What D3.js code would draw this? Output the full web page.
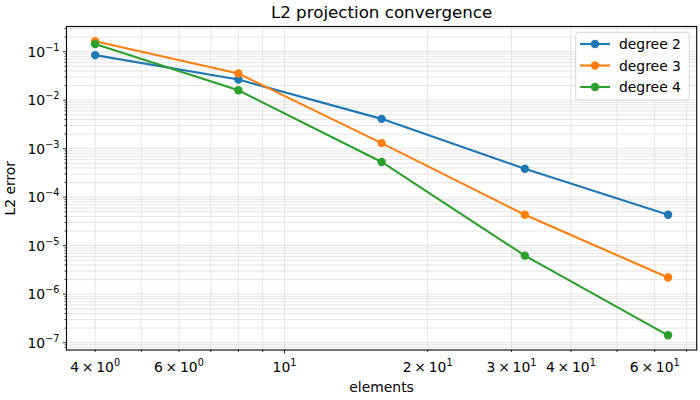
<!DOCTYPE html>
<html>
<head>
<meta charset="utf-8">
<script src="https://cdn.jsdelivr.net/npm/d3@7"></script>
<style>
  body { margin: 0; background: #fff; }
  text { font-family: "DejaVu Sans", sans-serif; fill: #000; }
</style>
</head>
<body>
<div id="chart"></div>
<script>
'use strict';
const elements = [4, 8, 16, 32, 64];
const degree2 = [0.0847, 0.0266, 0.00411, 3.86e-4, 4.33e-5];
const degree3 = [0.164, 0.0353, 1.30e-3, 4.33e-5, 2.2e-6];
const degree4 = [0.143, 0.0160, 5.31e-4, 6.24e-6, 1.42e-7];
const seriesNames = ["degree 2", "degree 3", "degree 4"];
const seriesColors = ["#1f77b4", "#ff7f0e", "#2ca02c"];
const xTickLabels = [[4, "4", 0], [6, "6", 0], [10, "", 1], [20, "2", 1], [30, "3", 1], [40, "4", 1], [60, "6", 1]];
const yTickExps = [-1, -2, -3, -4, -5, -6, -7];

const width = 700, height = 400;
const plotLeft = 66.5, plotRight = 696.7, plotTop = 26.5, plotBottom = 350;

const svg = d3.select("#chart").append("svg")
  .attr("width", width)
  .attr("height", height);

// log-log domains with 5% margins, like matplotlib
function padLog(lo, hi) {
  let a = Math.log10(lo), b = Math.log10(hi), m = (b - a) * 0.05;
  return [Math.pow(10, a - m), Math.pow(10, b + m)];
}
const allY = degree2.concat(degree3, degree4);
const x = d3.scaleLog().domain(padLog(d3.min(elements), d3.max(elements))).range([plotLeft, plotRight]);
const y = d3.scaleLog().domain(padLog(d3.min(allY), d3.max(allY))).range([plotBottom, plotTop]);

// grid, major and minor
let xGrid = [], yGrid = [];
for (let e = -1; e <= 2; ++e)
  for (let k = 1; k < 10; ++k) {
    let v = k * Math.pow(10, e);
    if (v >= x.domain()[0] && v <= x.domain()[1]) xGrid.push(v);
  }
for (let e = -9; e <= 0; ++e)
  for (let k = 1; k < 10; ++k) {
    let v = k * Math.pow(10, e);
    if (v >= y.domain()[0] && v <= y.domain()[1]) yGrid.push(v);
  }

const grid = svg.append("g").attr("stroke", "#dedede").attr("stroke-width", 0.8);
grid.selectAll("line.gx").data(xGrid).join("line")
  .attr("x1", d => x(d)).attr("x2", d => x(d))
  .attr("y1", plotTop).attr("y2", plotBottom);
grid.selectAll("line.gy").data(yGrid).join("line")
  .attr("y1", d => y(d)).attr("y2", d => y(d))
  .attr("x1", plotLeft).attr("x2", plotRight);

// series
const line = d3.line().x(d => x(d[0])).y(d => y(d[1]));
[degree2, degree3, degree4].forEach(function (vals, i) {
  let pts = elements.map((e, j) => [e, vals[j]]);
  let g = svg.append("g");
  g.append("path")
    .attr("d", line(pts))
    .attr("fill", "none")
    .attr("stroke", seriesColors[i])
    .attr("stroke-width", 2.1);
  g.selectAll("circle").data(pts).join("circle")
    .attr("cx", d => x(d[0]))
    .attr("cy", d => y(d[1]))
    .attr("r", 4.2)
    .attr("fill", seriesColors[i]);
});

// frame
svg.append("rect")
  .attr("x", plotLeft).attr("y", plotTop)
  .attr("width", plotRight - plotLeft).attr("height", plotBottom - plotTop)
  .attr("fill", "none").attr("stroke", "#000").attr("stroke-width", 1.1);

// ticks
const ticks = svg.append("g").attr("stroke", "#000").attr("stroke-width", 0.8);
ticks.selectAll("line.tx").data(xGrid).join("line")
  .attr("x1", d => x(d)).attr("x2", d => x(d))
  .attr("y1", plotBottom)
  .attr("y2", d => plotBottom + (d === 10 ? 3.5 : 2));
ticks.selectAll("line.ty").data(yGrid).join("line")
  .attr("y1", d => y(d)).attr("y2", d => y(d))
  .attr("x1", plotLeft)
  .attr("x2", d => plotLeft - (Math.abs(Math.log10(d) - Math.round(Math.log10(d))) < 1e-9 ? 3.5 : 2));

// x tick labels
xTickLabels.forEach(function (t) {
  let txt = svg.append("text")
    .attr("x", x(t[0]))
    .attr("y", 372)
    .attr("text-anchor", "middle")
    .attr("font-size", 13.9);
  if (t[1]) txt.append("tspan").text(t[1] + "\u2009\u00d7\u2009");
  txt.append("tspan").text("10");
  txt.append("tspan").attr("dy", -6).attr("font-size", 9.7).text(t[2]);
});

// y tick labels
yTickExps.forEach(function (e) {
  let txt = svg.append("text")
    .attr("x", 59.5)
    .attr("y", y(Math.pow(10, e)) + 5)
    .attr("text-anchor", "end")
    .attr("font-size", 13.9);
  txt.append("tspan").text("10");
  txt.append("tspan").attr("dy", -6).attr("font-size", 9.7).text("\u2212" + (-e));
});

// title and labels
svg.append("text")
  .attr("x", (plotLeft + plotRight) / 2).attr("y", 18)
  .attr("text-anchor", "middle").attr("font-size", 16.7)
  .text("L2 projection convergence");
svg.append("text")
  .attr("x", (plotLeft + plotRight) / 2).attr("y", 392)
  .attr("text-anchor", "middle").attr("font-size", 13.9)
  .text("elements");
svg.append("text")
  .attr("transform", "translate(15," + ((plotTop + plotBottom) / 2) + ") rotate(-90)")
  .attr("text-anchor", "middle").attr("font-size", 13.9)
  .text("L2 error");

// legend
const legend = svg.append("g");
legend.append("rect")
  .attr("x", 575.7).attr("y", 32.3)
  .attr("width", 113.6).attr("height", 67.7)
  .attr("rx", 3)
  .attr("fill", "#fff").attr("fill-opacity", 0.8)
  .attr("stroke", "#cccccc").attr("stroke-width", 0.8);
seriesNames.forEach(function (name, i) {
  let ly = 44 + i * 21.5;
  legend.append("line")
    .attr("x1", 580).attr("x2", 610)
    .attr("y1", ly).attr("y2", ly)
    .attr("stroke", seriesColors[i]).attr("stroke-width", 2.1);
  legend.append("circle")
    .attr("cx", 595).attr("cy", ly).attr("r", 4.2)
    .attr("fill", seriesColors[i]);
  legend.append("text")
    .attr("x", 619).attr("y", ly + 5)
    .attr("font-size", 13.9)
    .text(name);
});
</script>
</body>
</html>
